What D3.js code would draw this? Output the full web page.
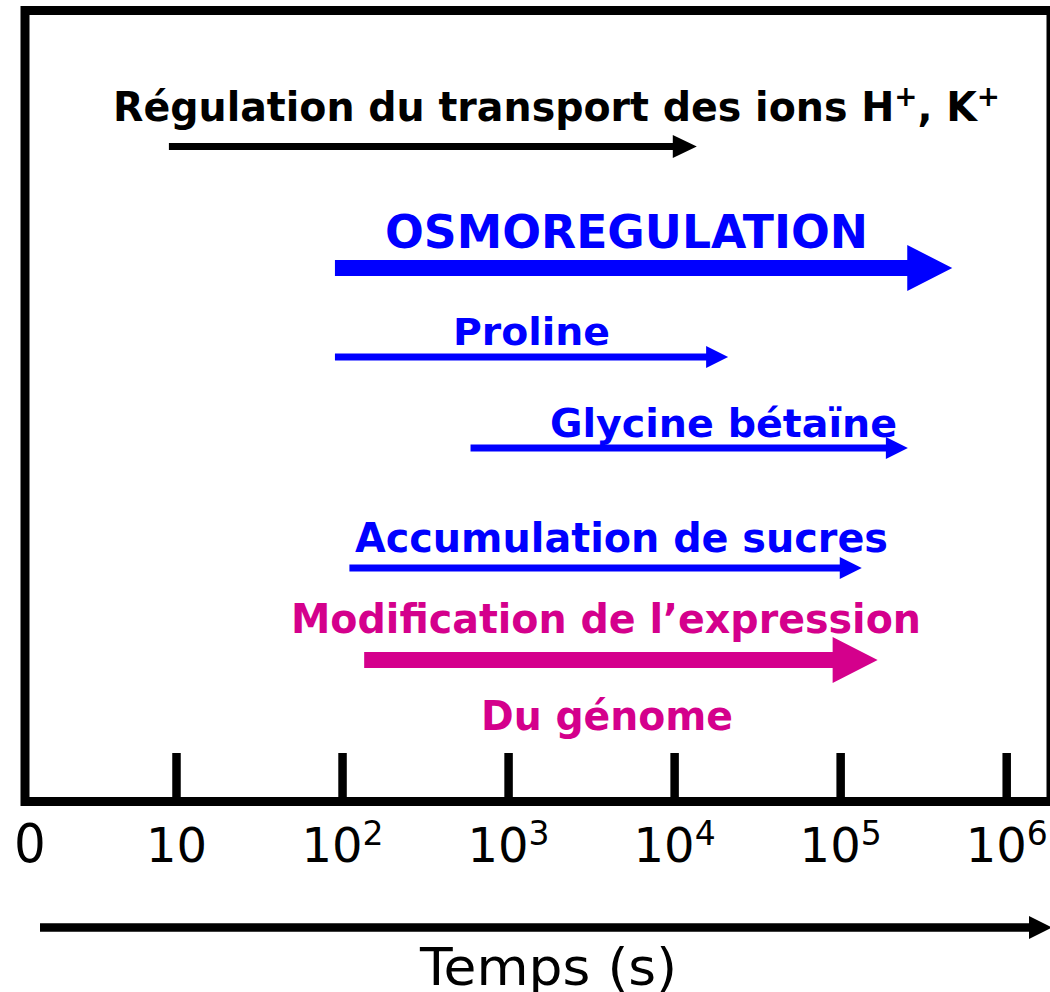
<!DOCTYPE html>
<html>
<head>
<meta charset="utf-8">
<script src="https://cdn.jsdelivr.net/npm/d3@7"></script>
<style>
  html, body { margin: 0; padding: 0; background: #fff; }
  svg { display: block; }
</style>
</head>
<body>
<svg id="chart" width="1050" height="992"></svg>
<script>
// ---------- DATA ----------
const processes = [
  "Régulation du transport des ions H+, K+",
  "OSMOREGULATION",
  "Proline",
  "Glycine bétaïne",
  "Accumulation de sucres",
  "Modification de l’expression du génome"
];
const startTimes = [9, 90, 90, 590, 110, 135];          // seconds
const endTimes   = [13600, 470000, 21000, 254000, 134000, 167000];
const tickValues = [10, 100, 1000, 10000, 100000, 1000000];
const tickBase   = ["10", "10", "10", "10", "10", "10"];
const tickExp    = ["", "2", "3", "4", "5", "6"];
const zeroLabel  = "0";
const axisTitle  = "Temps (s)";

// ---------- LAYOUT / STYLE ----------
const BLUE = "#0000ff", MAG = "#d4008c", BLACK = "#000";
const arrowStyle = [
  { y: 146.5, w: 7,  hl: 24, hh: 11.5, color: BLACK },
  { y: 268,   w: 16, hl: 45, hh: 23,   color: BLUE },
  { y: 357,   w: 7,  hl: 22, hh: 11,   color: BLUE },
  { y: 448,   w: 7,  hl: 22, hh: 11,   color: BLUE },
  { y: 568,   w: 7,  hl: 22, hh: 11,   color: BLUE },
  { y: 660,   w: 16, hl: 45, hh: 23,   color: MAG }
];
const labelLayout = [
  { parts: [["Régulation du transport des ions H", 0], ["+", 1], [", K", 0], ["+", 1]], x: 113, y: 121, w: 887, fs: 41, color: BLACK },
  { parts: [["OSMOREGULATION", 0]], x: 385, y: 248, w: 483, fs: 47, color: BLUE },
  { parts: [["Proline", 0]], x: 453, y: 345, w: 157, fs: 37, color: BLUE },
  { parts: [["Glycine bétaïne", 0]], x: 550, y: 437, w: 347, fs: 39, color: BLUE },
  { parts: [["Accumulation de sucres", 0]], x: 355, y: 552, w: 533, fs: 40, color: BLUE },
  { parts: [["Modification de l’expression", 0]], x: 291, y: 633, w: 630, fs: 41, color: MAG },
  { parts: [["Du génome", 0]], x: 481, y: 730, w: 252, fs: 41, color: MAG }
];

const svg = d3.select("#chart");
const x = d3.scaleLog().domain([10, 1e6]).range([176.5, 1006.7]);

const boxLeft = 25, boxTop = 10.5, boxRight = 1051, boxBottom = 801.5;

// frame
svg.append("rect")
  .attr("x", boxLeft).attr("y", boxTop)
  .attr("width", boxRight - boxLeft).attr("height", boxBottom - boxTop)
  .attr("fill", "none").attr("stroke", BLACK).attr("stroke-width", 9);

// ticks
svg.append("g").selectAll("line").data(tickValues).join("line")
  .attr("x1", d => x(d)).attr("x2", d => x(d))
  .attr("y1", 753).attr("y2", boxBottom)
  .attr("stroke", BLACK).attr("stroke-width", 8.5);

// tick labels
const tl = svg.append("g").attr("font-family", "'DejaVu Sans', Verdana, sans-serif").attr("fill", BLACK);
tl.append("text").attr("x", boxLeft + 5).attr("y", 862).attr("text-anchor", "middle")
  .attr("font-size", 50).attr("transform", `translate(0,${-862*0.08}) scale(1,1.08)`).text(zeroLabel);
tickValues.forEach((v, i) => {
  const t = tl.append("text").attr("x", x(v)).attr("y", 862).attr("text-anchor", "middle")
    .attr("font-size", 48);
  t.append("tspan").text(tickBase[i]);
  if (tickExp[i]) t.append("tspan").attr("font-size", 33).attr("dy", -17).text(tickExp[i]);
});

function arrowPath(x0, x1, s) {
  const hs = x1 - s.hl, h = s.w / 2;
  return `M${x0},${s.y - h}L${hs},${s.y - h}L${hs},${s.y - s.hh}L${x1},${s.y}L${hs},${s.y + s.hh}L${hs},${s.y + h}L${x0},${s.y + h}Z`;
}

// process arrows
svg.append("g").selectAll("path").data(processes).join("path")
  .attr("d", (d, i) => arrowPath(x(startTimes[i]), x(endTimes[i]), arrowStyle[i]))
  .attr("fill", (d, i) => arrowStyle[i].color);

// labels
const lg = svg.append("g").attr("font-family", "'DejaVu Sans', Verdana, sans-serif").attr("font-weight", "bold");
labelLayout.forEach(L => {
  const t = lg.append("text").attr("x", L.x).attr("y", L.y).attr("fill", L.color)
    .attr("font-size", L.fs).attr("textLength", L.w).attr("lengthAdjust", "spacingAndGlyphs");
  let prevSup = false;
  L.parts.forEach(([s, sup]) => {
    const ts = t.append("tspan").text(s);
    if (sup) ts.attr("font-size", L.fs * 0.7).attr("dy", -L.fs * 0.36);
    else if (prevSup) ts.attr("dy", L.fs * 0.36);
    prevSup = !!sup;
  });
});

// time axis arrow
svg.append("path")
  .attr("d", arrowPath(40, 1052, { y: 927.5, w: 8.5, hl: 23, hh: 11.5 }))
  .attr("fill", BLACK);

svg.append("text")
  .attr("x", 420).attr("y", 985)
  .attr("font-family", "'DejaVu Sans', Verdana, sans-serif")
  .attr("font-size", 52).attr("textLength", 257).attr("lengthAdjust", "spacingAndGlyphs")
  .attr("fill", BLACK).text(axisTitle);
</script>
</body>
</html>
